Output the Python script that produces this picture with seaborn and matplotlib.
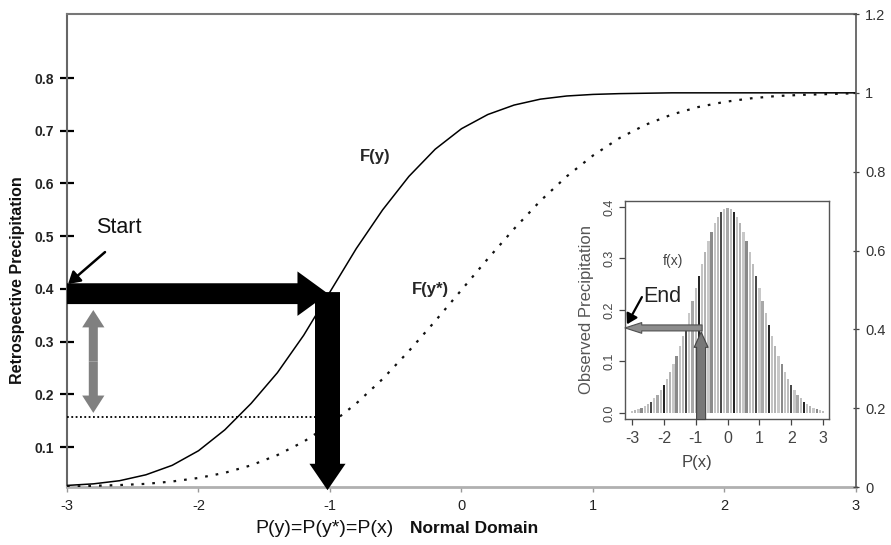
import matplotlib
matplotlib.use("Agg")
import matplotlib.pyplot as plt
import seaborn as sns
from matplotlib.patches import FancyArrowPatch
from matplotlib.ticker import FormatStrFormatter

# ---------------- data ----------------
x_domain = [-3.0, -2.8, -2.6, -2.4, -2.2, -2.0, -1.8, -1.6, -1.4, -1.2, -1.0,
            -0.8, -0.6, -0.4, -0.2, 0.0, 0.2, 0.4, 0.6, 0.8, 1.0,
            1.2, 1.4, 1.6, 1.8, 2.0, 2.2, 2.4, 2.6, 2.8, 3.0]
F_y = [0.004, 0.008, 0.016, 0.031, 0.055, 0.092, 0.145, 0.212, 0.290, 0.385, 0.495,
       0.605, 0.703, 0.788, 0.857, 0.909, 0.945, 0.969, 0.984, 0.992, 0.996,
       0.998, 0.999, 1.0, 1.0, 1.0, 1.0, 1.0, 1.0, 1.0, 1.0]
F_ystar = [0.001, 0.003, 0.005, 0.008, 0.014, 0.023, 0.036, 0.055, 0.081, 0.115, 0.159,
           0.212, 0.274, 0.345, 0.421, 0.500, 0.579, 0.655, 0.726, 0.788, 0.841,
           0.885, 0.919, 0.945, 0.964, 0.977, 0.986, 0.992, 0.995, 0.997, 0.999]

x_ticks = [-3, -2, -1, 0, 1, 2, 3]
left_ticks = [0.1, 0.2, 0.3, 0.4, 0.5, 0.6, 0.7, 0.8]
right_ticks = [0, 0.2, 0.4, 0.6, 0.8, 1.0, 1.2]

start_level = 0.4905      # retrospective level (right scale)
target_level = 0.177      # corrected level (right scale)
p_value = -1.015          # normal-domain value

inset_x = [-3.0, -2.9, -2.8, -2.7, -2.6, -2.5, -2.4, -2.3, -2.2, -2.1,
           -2.0, -1.9, -1.8, -1.7, -1.6, -1.5, -1.4, -1.3, -1.2, -1.1,
           -1.0, -0.9, -0.8, -0.7, -0.6, -0.5, -0.4, -0.3, -0.2, -0.1,
           0.0, 0.1, 0.2, 0.3, 0.4, 0.5, 0.6, 0.7, 0.8, 0.9,
           1.0, 1.1, 1.2, 1.3, 1.4, 1.5, 1.6, 1.7, 1.8, 1.9,
           2.0, 2.1, 2.2, 2.3, 2.4, 2.5, 2.6, 2.7, 2.8, 2.9, 3.0]
inset_f = [0.004, 0.006, 0.008, 0.010, 0.014, 0.018, 0.022, 0.028, 0.035, 0.044,
           0.054, 0.066, 0.079, 0.094, 0.111, 0.130, 0.150, 0.171, 0.194, 0.218,
           0.242, 0.266, 0.290, 0.312, 0.333, 0.352, 0.368, 0.381, 0.391, 0.397,
           0.399, 0.397, 0.391, 0.381, 0.368, 0.352, 0.333, 0.312, 0.290, 0.266,
           0.242, 0.218, 0.194, 0.171, 0.150, 0.130, 0.111, 0.094, 0.079, 0.066,
           0.054, 0.044, 0.035, 0.028, 0.022, 0.018, 0.014, 0.010, 0.008, 0.006, 0.004]
inset_ticks_x = [-3, -2, -1, 0, 1, 2, 3]
inset_ticks_y = [0.0, 0.1, 0.2, 0.3, 0.4]
obs_level = 0.165
obs_p = -0.83

# ---------------- style ----------------
sns.set_style("white")
plt.rcParams['font.family'] = ['Liberation Sans', 'DejaVu Sans']

fig = plt.figure(figsize=(8.91, 5.45), dpi=100)
ax = fig.add_axes([0.0752, 0.1064, 0.8855, 0.8679])
ax2 = ax.twinx()

# curves
sns.lineplot(x=x_domain, y=F_y, ax=ax2, color='black', lw=1.1)
sns.lineplot(x=x_domain, y=F_ystar, ax=ax2, color='#111111', lw=1.6)
ax2.lines[1].set_linestyle((0, (1.2, 3.6)))

ax.set_xlim(-3, 3)
ax.set_ylim(0.0241, 0.9214)
ax2.set_ylim(0, 1.2)

ax.set_xticks(x_ticks)
ax.xaxis.set_major_formatter(FormatStrFormatter('%g'))
ax.set_yticks(left_ticks)
ax.yaxis.set_major_formatter(FormatStrFormatter('%.1f'))
ax2.set_yticks(right_ticks)
ax2.yaxis.set_major_formatter(FormatStrFormatter('%g'))

ax.tick_params(axis='x', direction='out', length=3.5, width=1, color='#999999',
               labelsize=10.5, labelcolor='#222222', pad=5, bottom=True)
ax.tick_params(axis='y', direction='inout', length=10, width=1.6, color='black',
               labelsize=10, labelcolor='#222222', pad=4.5, left=True)
for lab in ax.get_yticklabels():
    lab.set_fontweight('bold')
ax2.tick_params(axis='y', direction='inout', length=5, width=0.9, color='#444444',
                labelsize=10.5, labelcolor='#333333', pad=4, right=True)

for s in ['left', 'top', 'bottom']:
    ax2.spines[s].set_visible(False)
ax.spines['right'].set_visible(False)
ax.spines['left'].set_color('#666666'); ax.spines['left'].set_linewidth(1.5)
ax.spines['top'].set_color('#777777'); ax.spines['top'].set_linewidth(1.5)
ax.spines['bottom'].set_color('#b0b0b0'); ax.spines['bottom'].set_linewidth(2)
ax2.spines['right'].set_color('#555555'); ax2.spines['right'].set_linewidth(1.2)
ax.grid(False); ax2.grid(False)
ax.set_xlabel(''); ax2.set_ylabel('')

def arrow(axis, p0, p1, hl, hw, tw, fc, ec='none', lw=0, z=5):
    a = FancyArrowPatch(p0, p1,
                        arrowstyle=f"simple,head_length={hl},head_width={hw},tail_width={tw}",
                        mutation_scale=1, shrinkA=0, shrinkB=0,
                        facecolor=fc, edgecolor=ec, linewidth=lw,
                        transform=axis.transData, clip_on=False, zorder=z)
    axis.add_patch(a)

# dotted target line
ax2.hlines(target_level, -3, -0.97, colors='black', linestyles=(0, (1, 1.4)), lw=1.3)

# big black arrows
arrow(ax2, (-3, start_level), (p_value, start_level), 22, 32, 15, 'black')
arrow(ax2, (p_value - 0.004, start_level + 0.004), (p_value - 0.004, -0.008), 19, 26, 18, 'black')

# gray double arrow
mid = (0.449 + 0.188) / 2
arrow(ax2, (-2.80, mid), (-2.80, 0.449), 12.5, 16, 6.5, '#808080')
arrow(ax2, (-2.80, mid), (-2.80, 0.188), 12.5, 16, 6.5, '#808080')

# Start label and pointer
ax2.text(-2.78, 0.644, 'Start', fontsize=15.5, color='#111111', ha='left', va='baseline')
ax2.annotate('', xy=(-2.992, 0.515), xytext=(-2.711, 0.596),
             arrowprops=dict(arrowstyle='-|>,head_length=0.5,head_width=0.3',
                             color='black', lw=1.8, shrinkA=0, shrinkB=0,
                             mutation_scale=14))

ax2.text(-0.775, 0.826, 'F(y)', fontsize=12, fontweight='bold', ha='left', va='baseline')
ax2.text(-0.38, 0.489, 'F(y*)', fontsize=12, fontweight='bold', ha='left', va='baseline')

fig.text(18 / 891, 1 - 280 / 545, 'Retrospective Precipitation', rotation=90,
         fontsize=11.5, fontweight='bold', ha='center', va='center', color='#111111')
fig.text(255 / 891, 1 - 533 / 545, 'P(y)=P(y*)=P(x)', fontsize=14, ha='left',
         va='baseline', color='#111111')
fig.text(410 / 891, 1 - 533 / 545, 'Normal Domain', fontsize=12.5, fontweight='bold',
         ha='left', va='baseline', color='#111111')

# ---------------- inset ----------------
axin = fig.add_axes([0.7015, 0.2312, 0.229, 0.400])
axin.set_facecolor('white')
sns.barplot(x=inset_x, y=inset_f, ax=axin, native_scale=True, orient='x',
            width=0.72, color='#c0c0c0', saturation=1, linewidth=0, edgecolor='none')
shades = ['#c4c4c4', '#b4b4b4', '#c8c8c8', '#8a8a8a', '#c4c4c4',
          '#bcbcbc', '#4a4a4a', '#c8c8c8', '#a8a8a8', '#c0c0c0', '#262626']
for i, p in enumerate(axin.patches):
    p.set_facecolor(shades[i % len(shades)])
axin.set_xlim(-3.22, 3.19)
axin.set_ylim(-0.012, 0.4117)
axin.set_xticks(inset_ticks_x)
axin.set_yticks(inset_ticks_y)
axin.xaxis.set_major_formatter(FormatStrFormatter('%g'))
axin.yaxis.set_major_formatter(FormatStrFormatter('%.1f'))
axin.tick_params(axis='x', direction='out', length=4, width=0.9, color='#444444',
                 labelsize=11.5, labelcolor='#444444', pad=5, bottom=True)
axin.tick_params(axis='y', direction='out', length=4, width=0.9, color='#444444',
                 labelsize=9, labelcolor='#444444', pad=3, left=True)
for lab in axin.get_yticklabels():
    lab.set_rotation(90)
    lab.set_va('center')
for s in axin.spines.values():
    s.set_color('#555555'); s.set_linewidth(1)
axin.set_xlabel(''); axin.set_ylabel('')
axin.grid(False)

fig.text(587 / 891, 1 - 309 / 545, 'Observed Precipitation', rotation=90, fontsize=12,
         color='#555555', ha='center', va='center')
fig.text(697 / 891, 1 - 462 / 545, 'P(x)', fontsize=12, color='#444444',
         ha='center', va='center')

arrow(axin, (obs_p, -0.013), (obs_p, obs_level - 0.008), 11, 10, 6.5, '#777777', '#444444', 0.8, z=6)
arrow(axin, (obs_p + 0.03, obs_level), (-3.22, obs_level), 12, 7.7, 4.3, '#8c8c8c', '#505050', 0.8, z=7)

axin.text(-2.65, 0.2155, 'End', fontsize=15.5, color='#222222', ha='left', va='baseline')
axin.annotate('', xy=(-3.16, 0.172), xytext=(-2.69, 0.225),
              arrowprops=dict(arrowstyle='-|>,head_length=0.5,head_width=0.3',
                              color='black', lw=1.6, shrinkA=0, shrinkB=0,
                              mutation_scale=12))
axin.text(-2.02, 0.287, 'f(x)', fontsize=10, color='#444444', ha='left', va='baseline')

fig.savefig('out.png', dpi=100)
